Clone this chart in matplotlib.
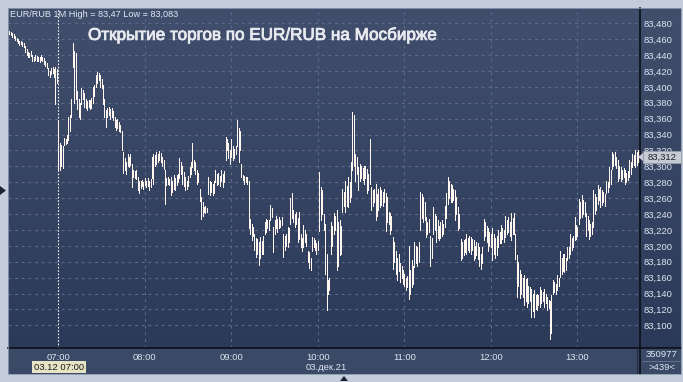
import numpy as np
import matplotlib
matplotlib.use("Agg")
import matplotlib.pyplot as plt
from matplotlib.patches import Rectangle, Polygon
import matplotlib.patheffects as pe

plt.rcParams['font.family'] = ['Liberation Sans', 'DejaVu Sans']

# ---------------- data ----------------
# 1-minute bars EUR/RUB, (low, high) in thousandths above 83.000
base_price = 83.0
first_minute = -34          # minutes relative to 07:00 (first bar 06:26)
bars_0626 = [(466,470),(465,469),(463,468),(462,467),(459,464),(458,462),(455,460),(453,458),(454,458),(451,456),
             (450,455),(444,452),(440,447),(438,444),(437,443),(439,445),(433,440),(432,438),(434,440),(432,439),
             (433,438),(431,437),(434,440),(432,438),(429,436),(426,433),(424,430),(415,424),(412,420),(416,424),
             (418,425),(413,422),(378,425),(405,423)]
bars_07 = [(295,358),(296,330),(300,327),(298,325),(327,336),(328,335),(330,340),(333,362),(345,365),(362,385),
           (425,455),(380,445),(385,442),(372,395),(362,385),(360,380),(378,398),(385,396),(375,392),(373,385),
           (371,382),(375,384),(372,383),(374,386),(380,400),(388,402),(400,415),(405,419),(408,418),(400,415),
           (398,410),(378,402),(362,385),(350,371),(362,374),(364,375),(360,372),(362,373),(358,370),(350,362),
           (346,358),(348,360),(345,356),(343,352),(320,345),(292,318),(296,310),(291,305),(300,316),(299,312),
           (302,315),(274,303),(287,295),(285,294),(284,295),(270,287),(266,282),(273,282),(275,283),(272,280)]
bars_08 = [(276,285),(274,282),(275,285),(270,281),(274,284),(285,312),(278,316),(300,314),(303,318),(305,316),
           (308,319),(306,317),(300,312),(297,308),(253,295),(276,285),(278,286),(276,284),(264,287),(268,282),
           (272,289),(270,285),(276,289),(280,290),(285,310),(290,306),(278,300),(275,293),(270,286),(272,282),
           (275,288),(286,299),(290,305),(299,329),(296,308),(290,306),(278,296),(280,292),(257,272),(234,261),
           (238,255),(242,249),(241,250),(243,248),(265,287),(264,282),(268,280),(264,278),(267,282),(280,295),
           (276,290),(278,292),(275,288),(282,295),(274,290),(280,294),(308,337),(320,335),(310,330),(303,320)]
bars_09 = [(312,335),(308,325),(310,322),(315,325),(325,358),(306,348),(320,345),(287,303),(283,289),(278,288),
           (280,287),(278,286),(222,282),(215,234),(207,228),(212,224),(195,215),(186,210),(190,208),(176,205),
           (185,211),(190,206),(190,213),(215,230),(218,234),(222,232),(220,233),(232,251),(236,248),(192,224),
           (215,232),(222,238),(218,234),(222,236),(224,233),(226,236),(186,215),(195,212),(200,215),(199,224),
           (205,222),(228,260),(235,266),(230,245),(224,240),(228,243),(205,235),(208,243),(198,215),(194,210),
           (199,226),(205,220),(200,215),(180,194),(172,192),(169,185),(194,211),(198,210),(195,207),(190,203)]
bars_10 = [(195,206),(219,293),(232,274),(240,270),(220,240),(165,228),(119,190),(140,157),(145,160),(190,230),
           (200,225),(215,241),(220,238),(169,245),(175,230),(188,232),(190,225),(243,272),(250,268),(243,282),
           (250,275),(249,287),(255,280),(262,306),(295,369),(300,365),(282,316),(290,312),(270,299),(282,303),
           (285,300),(283,298),(278,301),(285,300),(266,297),(270,290),(278,335),(245,274),(250,270),(255,272),
           (232,278),(238,265),(245,272),(249,274),(252,270),(250,268),(255,272),(219,266),(230,262),(228,243),
           (215,241),(220,238),(171,211),(180,205),(165,194),(157,185),(168,190),(155,178),(160,175),(152,170)]
bars_11 = [(150,165),(144,160),(148,162),(133,200),(140,170),(148,182),(152,175),(173,205),(178,200),(175,198),
           (180,205),(220,268),(235,265),(230,262),(232,255),(211,236),(215,230),(218,234),(175,213),(185,210),
           (215,249),(220,240),(205,238),(210,232),(207,225),(210,230),(212,232),(215,228),(224,250),(235,266),
           (253,287),(260,282),(255,278),(255,276),(258,272),(232,270),(240,262),(220,249),(222,240),(182,209),
           (185,205),(188,207),(192,208),(190,215),(195,210),(192,212),(190,211),(195,208),(182,207),(185,200),
           (188,205),(184,203),(175,199),(171,190),(178,198),(207,234),(212,230),(205,225),(194,222),(200,218)]
bars_12 = [(198,215),(182,222),(190,215),(185,210),(188,212),(199,220),(203,218),(203,226),(208,222),(205,220),
           (211,238),(215,232),(218,236),(212,230),(207,241),(215,235),(215,241),(184,215),(136,188),(150,180),
           (134,169),(140,165),(136,160),(125,163),(130,158),(123,159),(128,150),(130,148),(111,146),(118,140),
           (111,144),(120,138),(119,140),(125,138),(123,148),(128,145),(130,142),(123,146),(128,140),(119,136),
           (122,132),(83,131),(90,138),(140,157),(142,155),(140,152),(144,163),(150,160),(161,194),(165,185),
           (168,190),(167,190),(170,185),(182,199),(185,198),(190,215),(195,210),(198,212),(207,236),(209,226)]
bars_13 = [(212,224),(228,259),(235,255),(236,264),(240,258),(238,255),(213,241),(220,238),(209,232),(212,228),
           (215,230),(224,270),(240,265),(245,262),(253,276),(258,272),(249,274),(252,270),(255,268),(250,265),
           (266,282),(268,280),(274,299),(278,295),(297,318),(300,315),(302,318),(298,312),(281,308),(285,300),
           (282,299),(284,296),(286,298),(278,295),(280,292),(283,294),(287,308),(290,305),(299,316),(302,314),
           (299,320),(302,318),(305,320),(305,320)]
last_price = 83.312

hour_ticks = [0, 60, 120, 180, 240, 300, 360]
hour_labels = ['07:00', '08:00', '09:00', '10:00', '11:00', '12:00', '13:00']
price_ticks = [83.10, 83.12, 83.14, 83.16, 83.18, 83.20, 83.22, 83.24, 83.26, 83.28,
               83.30, 83.32, 83.34, 83.36, 83.38, 83.40, 83.42, 83.44, 83.46, 83.48]
header = 'EUR/RUB 1M High = 83,47 Low = 83,083'
title = 'Открытие торгов по EUR/RUB на Мосбирже'
date_label = '03.дек.21'
cursor_label = '03.12 07:00'
volume_label = '350977'
count_label = '>439<'

bars = bars_0626 + bars_07 + bars_08 + bars_09 + bars_10 + bars_11 + bars_12 + bars_13
lows = np.array([b[0] for b in bars]) / 1000 + base_price
highs = np.array([b[1] for b in bars]) / 1000 + base_price
minutes = np.arange(first_minute, first_minute + len(bars))

# ---------------- figure ----------------
W, H = 683, 382
fig = plt.figure(figsize=(W / 100, H / 100), dpi=100)
fig.patch.set_facecolor('#c4cedb')

def fb(x0, y0, x1, y1):
    return [x0 / W, 1 - y1 / H, (x1 - x0) / W, (y1 - y0) / H]

L, T, R, B = 8, 8, 640, 348
XR = 681

# background gradient axes (plot + right price column)
bg = fig.add_axes(fb(L, T, XR, B))
grad = np.linspace(0, 1, 256).reshape(-1, 1)
top = np.array([0x41, 0x4f, 0x6d]) / 255
bot = np.array([0x2c, 0x3a, 0x59]) / 255
img = top[None, None, :] * (1 - grad[:, :, None]) + bot[None, None, :] * grad[:, :, None]
bg.imshow(img, aspect='auto', extent=[0, 1, 0, 1])
bg.set_axis_off()

# bottom panel
bp = fig.add_axes(fb(L, B, XR, 374))
bp.set_facecolor('#3a4966')
bp.set_xticks([]); bp.set_yticks([])
for s in bp.spines.values():
    s.set_visible(False)

ax = fig.add_axes(fb(L, T, R, B))
ax.set_facecolor('none')
ymin = 83.0715
ymax = 83.4992
ax.set_xlim(-34.9, 403.4)
ax.set_ylim(ymin, ymax)

grid_col = '#5b6b8c'
for p in price_ticks:
    ax.axhline(p, color=grid_col, lw=0.8, dashes=(2.5, 3.5), zorder=1)
for h in hour_ticks[1:]:
    ax.axvline(h, color=grid_col, lw=0.8, dashes=(2.5, 3.5), zorder=1)
ax.axvline(0, color='#f2f2f2', lw=0.8, dashes=(1.5, 1.5), zorder=2)

ax.vlines(minutes, lows, highs, color='#fff6f0', lw=0.5, antialiased=False, zorder=3)

ax.set_xticks(hour_ticks)
ax.set_xticklabels(hour_labels)
ax.tick_params(axis='x', length=0, pad=3.5, labelsize=6.8, colors='#dde5f2')
ax.yaxis.tick_right()
ax.set_yticks(price_ticks)
ax.set_yticklabels([f'{p:.3f}'.replace('.', ',') for p in price_ticks])
ax.tick_params(axis='y', length=0, pad=2.5, labelsize=6.8, colors='#dde5f2')
for s in ax.spines.values():
    s.set_visible(False)

# separator lines
ov = fig.add_axes([0, 0, 1, 1])
ov.set_xlim(0, W); ov.set_ylim(H, 0)
ov.set_axis_off()
ov.plot([L, XR], [B, B], color='#0b0f18', lw=1.2)
ov.plot([R, R], [T, 374], color='#0b0f18', lw=1.2)
ov.plot([637, 637], [350, 373], color='#1f2a3e', lw=0.8)
ov.plot([642, XR], [361, 361], color='#6c7a95', lw=0.6)
ov.plot([L, XR, XR, L, L], [T, T, 374, 374, T], color='#8d99ad', lw=0.6)

# last price marker
ov.add_patch(Rectangle((643, 151), 38, 12, facecolor='#c6cad2', edgecolor='#9aa1ad', lw=0.5, zorder=5))
ov.add_patch(Polygon([[638, 157], [643, 153], [643, 161]], closed=True, facecolor='#c6cad2', zorder=5))
ov.text(662, 157.5, f'{last_price:.3f}'.replace('.', ','), fontsize=6.8, color='#1c2230',
        ha='center', va='center', zorder=6)

# cursor time box
ov.add_patch(Rectangle((32, 361), 54, 12, facecolor='#e7e4c6', edgecolor='none', zorder=5))
ov.text(59, 367.5, cursor_label, fontsize=6.8, color='#1c1c1c', ha='center', va='center', zorder=6)
ov.text(326, 367.5, date_label, fontsize=6.8, color='#dde5f2', ha='center', va='center')
ov.text(662, 354.5, volume_label, fontsize=6.8, color='#dde5f2', ha='center', va='center')
ov.text(662, 368, count_label, fontsize=6.8, color='#dde5f2', ha='center', va='center')

# frame arrows
ov.add_patch(Polygon([[0, 186], [6, 190.5], [0, 195]], closed=True, facecolor='#1d2435'))
ov.add_patch(Polygon([[340, 381], [344, 376], [348, 381]], closed=True, facecolor='#1d2435'))

# header and title
ov.text(10, 14.5, header, fontsize=6.6, color='#e2e8f3', ha='left', va='center')
ov.text(88, 35, title, fontsize=12.3, color='#e8eaf0', ha='left', va='center',
        path_effects=[pe.withStroke(linewidth=0.6, foreground='#e8eaf0')])

fig.savefig('out.png', dpi=100)
